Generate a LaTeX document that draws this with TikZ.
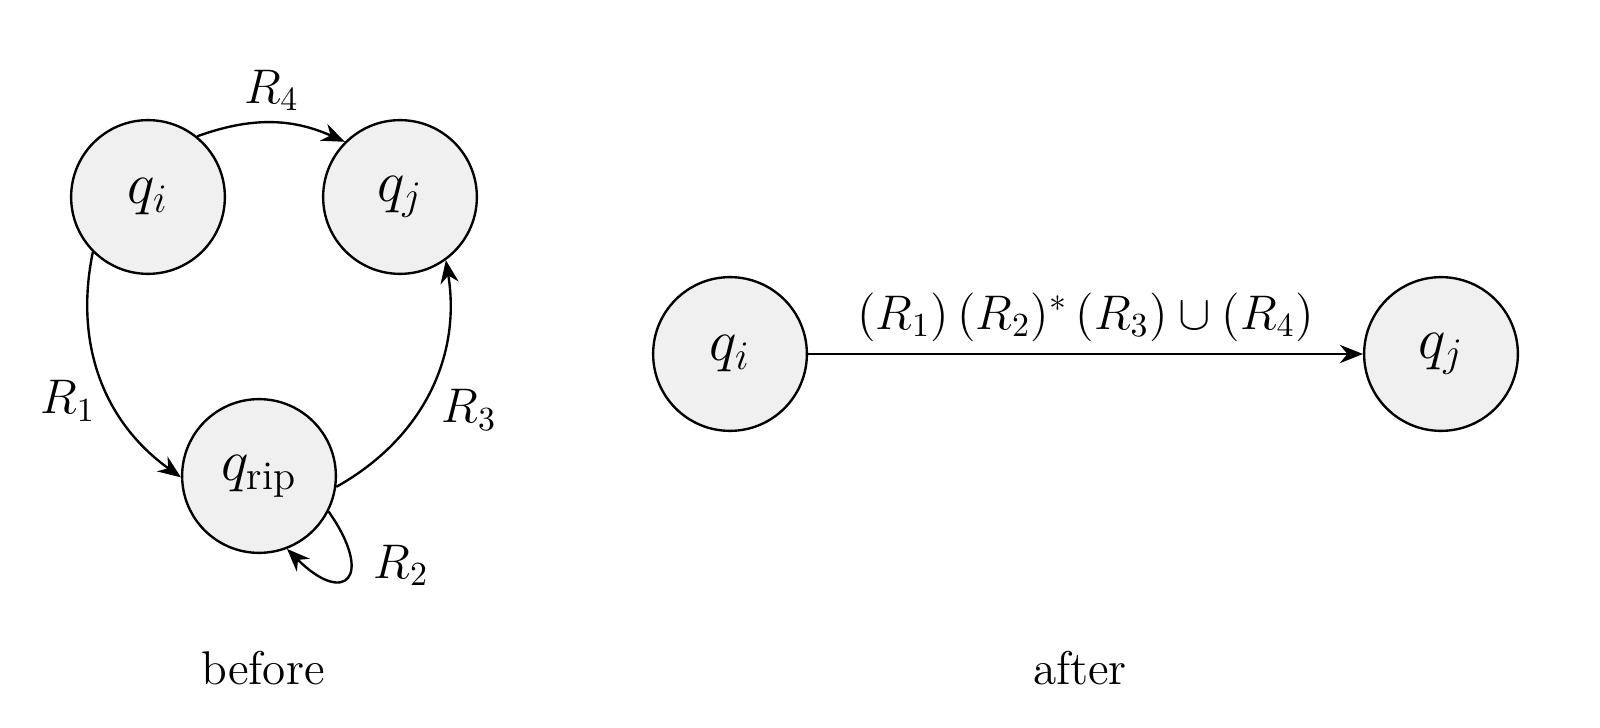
\documentclass[tikz,border=0pt]{standalone}
\usepackage{amsmath}
\usetikzlibrary{arrows.meta}
\tikzset{
  stat/.style={circle, draw, line width=0.7pt, fill=black!6, minimum size=1.6cm, inner sep=0pt, font=\LARGE},
  edg/.style={-{Stealth[length=2.4mm,width=1.9mm]}, line width=0.7pt},
  lbl/.style={font=\Large},
  capt/.style={font=\fontsize{14}{16}\selectfont},
}
\begin{document}
\begin{tikzpicture}[x=0.0104cm,y=-0.0104cm]
  \useasboundingbox (0,0) rectangle (1600,728);
  % before
  \node[stat] (qi) at (148,197) {$q_i$};
  \node[stat] (qj) at (400,197) {$q_j$};
  \node[stat] (qrip) at (259,476) {$q_{\text{rip}}$};
  \draw[edg] (qi.51) to[bend left=22] node[lbl,above=0pt] (r4) {$R_4$} (qj.135);
  \draw[edg] (qi.225) to[bend right=33] node[lbl,pos=.6,left=1pt] (r1) {$R_1$} (qrip.181);
  \draw[edg] (qrip.-8) to[bend right=35] node[lbl,pos=.42,right=3pt] (r3) {$R_3$} (qj.-54);
  \draw[edg] (qrip.-27) to[out=-55,in=-45,looseness=3.7] node[lbl,pos=.35,right=3pt] (r2) {$R_2$} (qrip.-69);
  \node[capt] (bef) at (263,668) {before};
  % after
  \node[stat] (qi2) at (730,354) {$q_i$};
  \node[stat] (qj2) at (1441,354) {$q_j$};
  \draw[edg] (qi2) -- node[lbl,above=0pt] (rx) {$(R_1)\,(R_2)^*\,(R_3)\cup(R_4)$} (qj2);
  \node[capt] (aft) at (1080,668) {after};
\end{tikzpicture}
\end{document}
